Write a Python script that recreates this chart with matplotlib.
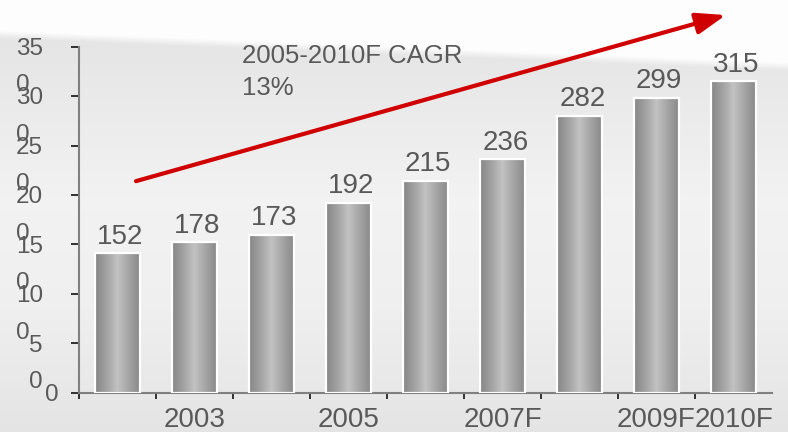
import numpy as np
import matplotlib
matplotlib.use('Agg')
import matplotlib.pyplot as plt
from matplotlib.colors import LinearSegmentedColormap
from matplotlib import transforms

plt.rcParams['font.family'] = ['Liberation Sans', 'DejaVu Sans']

# data
years = ['2002', '2003', '2004', '2005', '2006', '2007F', '2008F', '2009F', '2010F']
shown_years = ['', '2003', '', '2005', '', '2007F', '', '2009F', '2010F']
bar_heights = [141, 152, 160, 192, 214, 236, 280, 298, 315]
bar_labels = [152, 178, 173, 192, 215, 236, 282, 299, 315]
y_ticks = [0, 50, 100, 150, 200, 250, 300, 350]
y_ticklabels = ['0', '5\n0', '10\n0', '15\n0', '20\n0', '25\n0', '30\n0', '35\n0']
cagr_text = '2005-2010F CAGR\n13%'

txt_col = '#595959'

fig = plt.figure(figsize=(7.88, 4.32), dpi=100)

# background: white top, soft grey band below
bg = fig.add_axes([0, 0, 1, 1], zorder=-5)
H, W = 432, 788
yy, xx = np.mgrid[0:H, 0:W].astype(float)
edge = 30 + 32 * xx / W
t = np.clip((yy - edge) / 8, 0, 1)
base = np.interp(yy, [0, 60, 200, 300, 432], [0.89, 0.905, 0.95, 0.94, 0.895])
img = 0.995 * (1 - t) + base * t
bg.imshow(np.dstack([img, img, img]), extent=[0, W, H, 0], aspect='auto')
bg.set_axis_off()

ax = fig.add_axes([79 / 788, 1 - 392.7 / 432, 693 / 788, 346 / 432])
ax.set_facecolor('none')

x = np.arange(len(years))
cmap = LinearSegmentedColormap.from_list(
    'bar', ['#868686', '#a2a2a2', '#c2c2c2', '#a5a5a5', '#898989'])
grad = np.linspace(0, 1, 100).reshape(1, -1)
bars = ax.bar(x, bar_heights, width=0.58, facecolor='none',
              edgecolor='white', linewidth=1.6, zorder=3)
for b in bars:
    x0, w, h = b.get_x(), b.get_width(), b.get_height()
    im = ax.imshow(grad, extent=[x0, x0 + w, 0, h], aspect='auto',
                   cmap=cmap, zorder=2)
    im.set_clip_path(b)

for xi, h, lab in zip(x, bar_heights, bar_labels):
    ax.annotate(str(lab), (xi, h), xytext=(2, 7), textcoords='offset points',
                ha='center', va='baseline', fontsize=20, color=txt_col)

ax.set_xlim(-0.5, len(years) - 0.5)
ax.set_ylim(0, 350)

# ticks at category boundaries, labels at centres
ax.set_xticks(np.arange(-0.5, len(years) - 1, 1.0))
ax.set_xticklabels([])
ax.set_xticks(x, minor=True)
ax.set_xticklabels(shown_years, minor=True, fontsize=20, color=txt_col)
ax.tick_params(axis='x', which='major', direction='out', length=4.5,
               width=1.3, color='#222222')
ax.tick_params(axis='x', which='minor', length=0, pad=10)

ax.set_yticks(y_ticks)
ax.set_yticklabels([])
ax.tick_params(axis='y', direction='out', length=6, width=1.3, color='#222222')
blend = transforms.blended_transform_factory(ax.transAxes, ax.transData)
for v, s in zip(y_ticks, y_ticklabels):
    dx = -15 if '\n' not in s else -26
    ax.annotate(s, (0, v), xycoords=blend, xytext=(dx, 6.3),
                textcoords='offset points', ha='right', va='top',
                multialignment='left', linespacing=1.85,
                fontsize=17.5, color=txt_col, annotation_clip=False)

for side in ['top', 'right']:
    ax.spines[side].set_visible(False)
for side in ['left', 'bottom']:
    ax.spines[side].set_color('#808080')
    ax.spines[side].set_linewidth(1.5)

ax.text(0.235, 1.008, cagr_text, transform=ax.transAxes, ha='left', va='top',
        fontsize=18.5, color=txt_col, linespacing=1.4)

ax.annotate('', xy=(7.9, 382), xytext=(0.24, 214),
            arrowprops=dict(arrowstyle='-|>,head_length=1.8,head_width=0.65',
                            color='#d00000', lw=3, shrinkA=0, shrinkB=0,
                            mutation_scale=10),
            annotation_clip=False)

fig.savefig('out.png', dpi=100)
